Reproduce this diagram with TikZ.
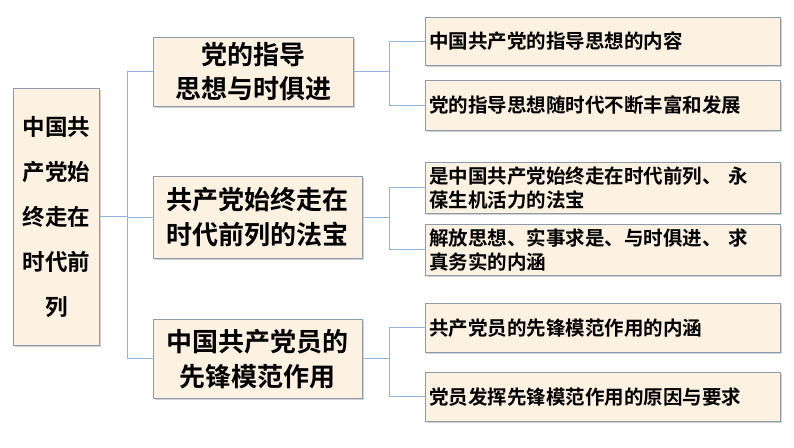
\documentclass[tikz,border=0pt]{standalone}
\usepackage{fontspec}
\newfontfamily\cjk{Noto Sans CJK SC Bold}
\definecolor{fillc}{HTML}{FDF2E2}
\definecolor{bord}{HTML}{8C9AB0}
\definecolor{linec}{HTML}{8FB4E3}
\tikzset{
 box/.style={draw=bord,fill=fillc,line width=0.8pt,inner sep=0pt,anchor=north west,font=\cjk,text=black,
   drop shadow={shadow xshift=1.2pt,shadow yshift=-1.2pt,fill=black!35}},
 conn/.style={draw=linec,line width=0.9pt}
}
\usetikzlibrary{shadows}
\begin{document}
\begin{tikzpicture}[x=1pt,y=-1pt]
\useasboundingbox (0,0) rectangle (794,447);
\node[box,minimum width=86pt,minimum height=257pt,align=center,font=\cjk\fontsize{22.5}{45}\selectfont] (r) at (13,88) {中国共\\产党始\\终走在\\时代前\\列};
\node[box,minimum width=200pt,minimum height=69pt,align=center,font=\cjk\fontsize{26}{34}\selectfont] (m1) at (153,37) {党的指导\\思想与时俱进};
\node[box,minimum width=209pt,minimum height=82pt,align=center,font=\cjk\fontsize{26}{35}\selectfont] (m2) at (153,176) {共产党始终走在\\时代前列的法宝};
\node[box,minimum width=209pt,minimum height=79pt,align=center,font=\cjk\fontsize{26}{35}\selectfont] (m3) at (153,319) {中国共产党员的\\先锋模范作用};
\tikzset{rb/.style={box,minimum width=355pt,text width=347pt,align=left,inner xsep=4pt,font=\cjk\fontsize{19.5}{24}\selectfont}}
\node[rb,minimum height=48pt] (a1) at (425,17) {中国共产党的指导思想的内容};
\node[rb,minimum height=50pt] (a2) at (425,80) {党的指导思想随时代不断丰富和发展};
\node[rb,minimum height=51pt] (b1) at (425,162) {是中国共产党始终走在时代前列、 永\\葆生机活力的法宝};
\node[rb,minimum height=51pt] (b2) at (425,224) {解放思想、实事求是、与时俱进、 求\\真务实的内涵};
\node[rb,minimum height=49pt] (c1) at (425,303) {共产党员的先锋模范作用的内涵};
\node[rb,minimum height=49pt] (c2) at (425,372) {党员发挥先锋模范作用的原因与要求};
\coordinate (j0) at (127,0);
\draw[conn] (r.east) -- (r.east -| j0);
\draw[conn] (m1.west) -- (m1.west -| j0) -- (m3.west -| j0) -- (m3.west);
\draw[conn] (m2.west -| j0) -- (m2.west);
\coordinate (j1) at (389,0);
\foreach \m/\p/\q in {m1/a1/a2,m2/b1/b2,m3/c1/c2}{
 \draw[conn] (\m.east) -- (\m.east -| j1);
 \draw[conn] (\p.west) -- (\p.west -| j1) -- (\q.west -| j1) -- (\q.west);
}
\end{tikzpicture}
\end{document}
